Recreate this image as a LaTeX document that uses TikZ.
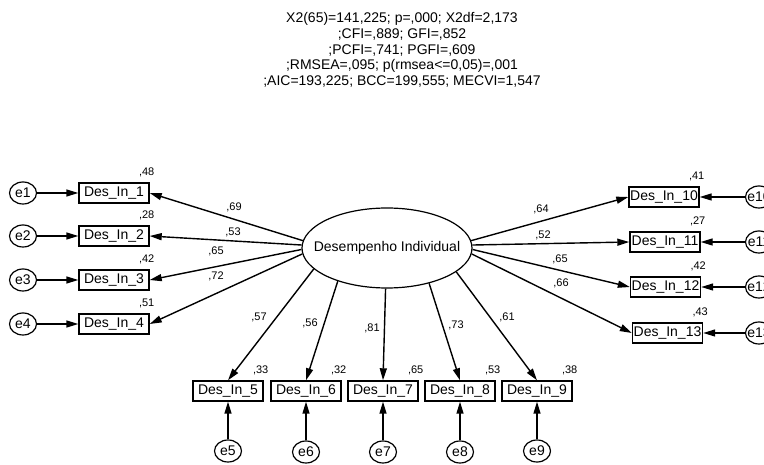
\documentclass[tikz,border=0pt]{standalone}
\usepackage{fontspec}
\setmainfont{Liberation Sans}
\usetikzlibrary{shapes.geometric,arrows.meta,calc}
\begin{document}
\begin{tikzpicture}[x=1pt,y=-1pt,
 obs/.style={draw,line width=1.4pt,minimum width=70pt,minimum height=20pt,inner sep=1pt,font=\fontsize{14}{16}\selectfont},
 err/.style={draw,ellipse,line width=1.2pt,minimum width=27pt,minimum height=22pt,inner xsep=-4pt,inner ysep=-3pt,font=\fontsize{14}{16}\selectfont},
 lat/.style={draw,ellipse,line width=1.2pt,minimum width=170pt,minimum height=80pt,inner xsep=-15pt,inner ysep=0pt,font=\fontsize{14}{16}\selectfont},
 lbl/.style={font=\fontsize{11}{13}\selectfont,inner sep=0pt},
 arr/.style={line width=1.4pt,-{Triangle[length=12pt,width=7pt]}},
]
\useasboundingbox (0,0) rectangle (764,465);

% fit statistics
\node[align=center,font=\fontsize{14}{15.8}\selectfont,inner sep=0pt] (fit) at (402,50)
 {X2(65)=141,225; p=,000; X2df=2,173\\
  ;CFI=,889; GFI=,852\\
  ;PCFI=,741; PGFI=,609\\
  ;RMSEA=,095; p(rmsea<=0,05)=,001\\
  ;AIC=193,225; BCC=199,555; MECVI=1,547};

% latent
\node[lat] (lat) at (387,248) {Desempenho Individual};

% observed boxes
\node[obs] (b1) at (114,193) {Des\_In\_1};
\node[obs] (b2) at (114,236) {Des\_In\_2};
\node[obs] (b3) at (114,280) {Des\_In\_3};
\node[obs] (b4) at (114,324) {Des\_In\_4};
\node[obs] (b5) at (228,391) {Des\_In\_5};
\node[obs] (b6) at (306,391) {Des\_In\_6};
\node[obs] (b7) at (383,391) {Des\_In\_7};
\node[obs] (b8) at (460,391) {Des\_In\_8};
\node[obs] (b9) at (537,391) {Des\_In\_9};
\node[obs] (b10) at (664,197) {Des\_In\_10};
\node[obs] (b11) at (665,242) {Des\_In\_11};
\node[obs] (b12) at (665.5,287) {Des\_In\_12};
\node[obs] (b13) at (667.5,333) {Des\_In\_13};

% errors
\node[err] (e1) at (23,193) {e1};
\node[err] (e2) at (23,236) {e2};
\node[err] (e3) at (23,280) {e3};
\node[err] (e4) at (23,324) {e4};
\node[err] (e5) at (228,451) {e5};
\node[err] (e6) at (306,452) {e6};
\node[err] (e7) at (383,452) {e7};
\node[err] (e8) at (460,452) {e8};
\node[err] (e9) at (537,451) {e9};
\node[err] (e10) at (759,197) {e10};
\node[err] (e11) at (759,242) {e11};
\node[err] (e12) at (759,287) {e12};
\node[err] (e13) at (759,333) {e13};

% error arrows
\draw[arr] (e1) -- (b1);
\draw[arr] (e2) -- (b2);
\draw[arr] (e3) -- (b3);
\draw[arr] (e4) -- (b4);
\draw[arr] (e5) -- (b5);
\draw[arr] (e6) -- (b6);
\draw[arr] (e7) -- (b7);
\draw[arr] (e8) -- (b8);
\draw[arr] (e9) -- (b9);
\draw[arr] (e10) -- (b10);
\draw[arr] (e11) -- (b11);
\draw[arr] (e12) -- (b12);
\draw[arr] (e13) -- (b13);

% loadings
\draw[arr] (lat.175) -- (b1.east);
\draw[arr] (lat.178) -- (b2.east);
\draw[arr] (lat.181) -- (b3.east);
\draw[arr] (lat.184) -- (b4.east);
\draw[arr] (lat.196) -- (b5.north);
\draw[arr] (lat.214) -- (b6.north);
\draw[arr] (lat.268) -- (b7.north);
\draw[arr] (lat.320) -- (b8.north);
\draw[arr] (lat.341) -- (b9.north);
\draw[arr] (lat.5) -- (b10.west);
\draw[arr] (lat.2) -- (b11.west);
\draw[arr] (lat.-1) -- (b12.west);
\draw[arr] (lat.-4) -- (b13.west);

% loading labels
\node[lbl] (l1) at (234,207) {,69};
\node[lbl] (l2) at (233,232) {,53};
\node[lbl] (l3) at (216,251) {,65};
\node[lbl] (l4) at (216,276) {,72};
\node[lbl] (l5) at (259,317) {,57};
\node[lbl] (l6) at (310,323) {,56};
\node[lbl] (l7) at (372,328) {,81};
\node[lbl] (l8) at (456,325) {,73};
\node[lbl] (l9) at (507,317) {,61};
\node[lbl] (l10) at (541,209) {,64};
\node[lbl] (l11) at (543,235) {,52};
\node[lbl] (l12) at (560,259) {,65};
\node[lbl] (l13) at (561,283) {,66};

% squared multiple correlations
\node[lbl] (r1) at ($(b1.north east)+(-3,-10)$) {,48};
\node[lbl] (r2) at ($(b2.north east)+(-3,-10)$) {,28};
\node[lbl] (r3) at ($(b3.north east)+(-3,-10)$) {,42};
\node[lbl] (r4) at ($(b4.north east)+(-3,-10)$) {,51};
\node[lbl] (r5) at ($(b5.north east)+(-3,-10)$) {,33};
\node[lbl] (r6) at ($(b6.north east)+(-3,-10)$) {,32};
\node[lbl] (r7) at ($(b7.north east)+(-3,-10)$) {,65};
\node[lbl] (r8) at ($(b8.north east)+(-3,-10)$) {,53};
\node[lbl] (r9) at ($(b9.north east)+(-3,-10)$) {,38};
\node[lbl] (r10) at ($(b10.north east)+(-3,-10)$) {,41};
\node[lbl] (r11) at ($(b11.north east)+(-3,-10)$) {,27};
\node[lbl] (r12) at ($(b12.north east)+(-3,-10)$) {,42};
\node[lbl] (r13) at ($(b13.north east)+(-3,-10)$) {,43};
\end{tikzpicture}
\end{document}
